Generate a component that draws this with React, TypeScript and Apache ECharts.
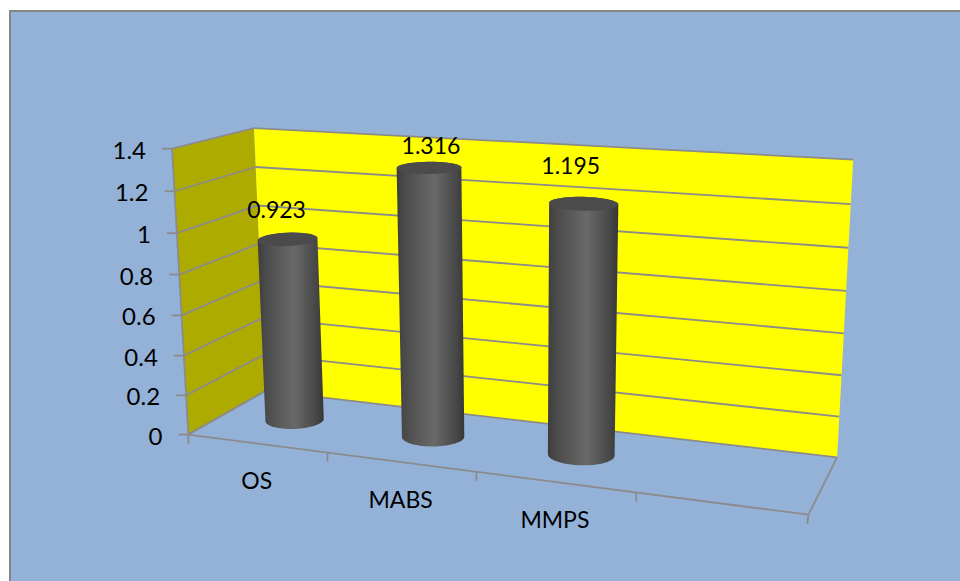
import React, { useEffect, useRef } from "react";
import * as echarts from "echarts";

// Chart content
const categories = ["OS", "MABS", "MMPS", ""];
const seriesValues = [0.923, 1.316, 1.195];
const yTicks = [0, 0.2, 0.4, 0.6, 0.8, 1, 1.2, 1.4];

// Scene layout: how the unit box (u along the categories, v into the depth, w upward)
// sits on the page. Used to solve a single projective camera.
const cameraAnchors: [number, number, number, number, number][] = [
  [0, 0, 0, 188.3, 434],
  [1, 0, 0, 808.3, 515],
  [0, 1, 0, 265.3, 390.6],
  [1, 1, 0, 836.7, 456.7],
  [0, 0, 1, 172.7, 148],
  [0, 1, 1, 253.3, 129],
  [1, 1, 1, 853.3, 159.3],
  [0.25, 0, 0, 327.3, 452.7],
  [0.5, 0, 0, 476, 471.7],
  [0.75, 0, 0, 635, 493.3],
  [0.125, 0.5, 0, 294.5, 420],
  [0.375, 0.5, 0, 433.5, 437],
  [0.625, 0.5, 0, 583.5, 455],
];
const LABEL_NUDGE: [number, number][] = [
  [-11, -30],
  [2, -23],
  [-13, -39],
];
const BAR_DEPTH = 0.5;
const BAR_HALF_WIDTH = 0.054;
const GRID = { left: 100, top: 100, width: 400, height: 400 };
const FONT = "Lato, Carlito, Calibri, sans-serif";
const LINE = "#8b8b8b";

function solveLinear(A: number[][], b: number[]): number[] {
  const n = b.length;
  const M = A.map((r, i) => [...r, b[i]]);
  for (let c = 0; c < n; c++) {
    let p = c;
    for (let r = c + 1; r < n; r++) if (Math.abs(M[r][c]) > Math.abs(M[p][c])) p = r;
    [M[c], M[p]] = [M[p], M[c]];
    for (let r = 0; r < n; r++) {
      if (r === c) continue;
      const f = M[r][c] / M[c][c];
      for (let k = c; k <= n; k++) M[r][k] -= f * M[c][k];
    }
  }
  return M.map((r, i) => r[n] / r[i]);
}

// Least-squares fit of the 11 camera coefficients from the anchors.
function fitCamera(): number[] {
  const rows: number[][] = [];
  const rhs: number[] = [];
  for (const [u, v, w, px, py] of cameraAnchors) {
    const x = px / 1000;
    const y = py / 1000;
    rows.push([u, v, w, 1, 0, 0, 0, 0, -x * u, -x * v, -x * w]);
    rhs.push(x);
    rows.push([0, 0, 0, 0, u, v, w, 1, -y * u, -y * v, -y * w]);
    rhs.push(y);
  }
  const n = 11;
  const ATA = Array.from({ length: n }, (_, i) =>
    Array.from({ length: n }, (_, j) => rows.reduce((s, r) => s + r[i] * r[j], 0))
  );
  const ATb = Array.from({ length: n }, (_, i) => rows.reduce((s, r, k) => s + r[i] * rhs[k], 0));
  return solveLinear(ATA, ATb);
}

const cam = fitCamera();
function project(u: number, v: number, w: number): [number, number] {
  const d = cam[8] * u + cam[9] * v + cam[10] * w + 1;
  return [
    (1000 * (cam[0] * u + cam[1] * v + cam[2] * w + cam[3])) / d,
    (1000 * (cam[4] * u + cam[5] * v + cam[6] * w + cam[7])) / d,
  ];
}

// Turn a grid pixel from the hidden axes into box fractions.
function toBox(params: any, pt: number[]) {
  const g = params.coordSys;
  return { u: (pt[0] - g.x) / g.width, w: (g.y + g.height - pt[1]) / g.height };
}

const lineStyle = { stroke: LINE, lineWidth: 1.8, fill: "none" };
const seg = (a: number[], b: number[], lineWidth = 1.8) => ({
  type: "line",
  shape: { x1: a[0], y1: a[1], x2: b[0], y2: b[1] },
  style: { ...lineStyle, lineWidth },
});

function renderWalls() {
  const poly = (pts: number[][], fill: string) => ({
    type: "polygon",
    shape: { points: pts },
    style: { fill },
  });
  return {
    type: "group",
    children: [
      poly([project(0, 0, 0), project(0, 1, 0), project(0, 1, 1), project(0, 0, 1)], "#aeab00"),
      poly([project(0, 1, 0), project(1, 1, 0), project(1, 1, 1), project(0, 1, 1)], "#ffff00"),
      seg(project(0, 0, 0), project(1, 0, 0)),
      seg(project(1, 0, 0), project(1, 1, 0)),
      seg(project(0, 0, 0), project(0, 1, 0)),
      seg(project(0, 0, 0), project(0, 0, 1)),
      seg(project(1, 0, 0), [project(1, 0, 0)[0] - 1, project(1, 0, 0)[1] + 9]),
    ],
  };
}

function renderGridLine(params: any, api: any) {
  const { w } = toBox(params, api.coord([0, api.value(1)]));
  const front = project(0, 0, w);
  const corner = project(0, 1, w);
  const right = project(1, 1, w);
  return {
    type: "group",
    children: [
      seg(front, corner),
      seg(corner, right),
      seg(front, [front[0] - 10, front[1]]),
      {
        type: "text",
        style: {
          text: String(api.value(1)),
          x: front[0] - 26,
          y: front[1] + 0.5,
          align: "right",
          verticalAlign: "middle",
          font: `24px ${FONT}`,
          fill: "#000",
        },
      },
    ],
  };
}

function renderCategory(params: any, api: any) {
  const i = api.value(0);
  const { u } = toBox(params, api.coord([i, 0]));
  const half = api.size([1, 0])[0] / params.coordSys.width / 2;
  const tick = project(u - half, 0, 0);
  const mid = project(u, 0, 0);
  return {
    type: "group",
    children: [
      seg(tick, [tick[0], tick[1] + 9]),
      {
        type: "text",
        style: {
          text: categories[i],
          x: mid[0],
          y: mid[1] + 37,
          align: "center",
          verticalAlign: "middle",
          font: `23px ${FONT}`,
          fill: "#000",
        },
      },
    ],
  };
}

function ellipse(c: number[], rx: number, ry: number, tilt: number, from: number, to: number) {
  const pts: number[][] = [];
  const steps = 36;
  for (let k = 0; k <= steps; k++) {
    const t = from + ((to - from) * k) / steps;
    const ex = rx * Math.cos(t);
    const ey = ry * Math.sin(t);
    pts.push([
      c[0] + ex * Math.cos(tilt) - ey * Math.sin(tilt),
      c[1] + ex * Math.sin(tilt) + ey * Math.cos(tilt),
    ]);
  }
  return pts;
}

function renderBar(params: any, api: any) {
  const i = api.value(0);
  const value = api.value(1);
  const { u, w } = toBox(params, api.coord([i, value]));
  const base = project(u, BAR_DEPTH, 0);
  const top = project(u, BAR_DEPTH, w);
  const radiusAt = (h: number) => {
    const a = project(u - BAR_HALF_WIDTH, BAR_DEPTH, h);
    const b = project(u + BAR_HALF_WIDTH, BAR_DEPTH, h);
    return Math.hypot(b[0] - a[0], b[1] - a[1]) / 2;
  };
  const tilt = ((-3.5 + 8 * u) * Math.PI) / 180;
  const rBase = radiusAt(0);
  const rTop = radiusAt(w);
  const ryBase = rBase * 0.31;
  const ryTop = rTop * (0.31 - 0.13 * w);
  const body = [
    ...ellipse(base, rBase, ryBase, tilt, 0, Math.PI),
    ...ellipse(top, rTop, ryTop, tilt, Math.PI, 2 * Math.PI),
  ];
  const nudge = LABEL_NUDGE[i];
  return {
    type: "group",
    children: [
      {
        type: "polygon",
        shape: { points: body },
        style: {
          fill: new echarts.graphic.LinearGradient(0, 0, 1, 0, [
            { offset: 0, color: "#3c3c3c" },
            { offset: 0.1, color: "#494949" },
            { offset: 0.55, color: "#696969" },
            { offset: 0.9, color: "#454545" },
            { offset: 1, color: "#363636" },
          ]),
        },
      },
      {
        type: "polygon",
        shape: { points: ellipse(top, rTop, ryTop, tilt, 0, 2 * Math.PI) },
        style: { fill: "#4b4b4b" },
      },
      {
        type: "text",
        style: {
          text: String(value),
          x: top[0] + nudge[0],
          y: top[1] + nudge[1],
          align: "center",
          verticalAlign: "middle",
          font: `23px ${FONT}`,
          fill: "#000",
        },
      },
    ],
  };
}

export default function App() {
  const ref = useRef<HTMLDivElement>(null);
  useEffect(() => {
    const chart = echarts.init(ref.current!, undefined, { renderer: "svg" });
    chart.setOption({
      animation: false,
      backgroundColor: "#ffffff",
      graphic: [
        {
          type: "rect",
          z: -10,
          shape: { x: 10, y: 11, width: 970, height: 600 },
          style: { fill: "#94b2d8", stroke: "#858585", lineWidth: 2 },
        },
      ],
      grid: GRID,
      xAxis: { type: "category", data: categories, show: false },
      yAxis: { type: "value", min: 0, max: 1.4, interval: 0.2, show: false },
      series: [
        {
          type: "custom",
          z: 1,
          silent: true,
          data: [[0, 0]],
          encode: { x: 0, y: 1 },
          renderItem: renderWalls,
        },
        {
          type: "custom",
          z: 2,
          silent: true,
          data: yTicks.map((t) => [0, t]),
          encode: { x: 0, y: 1 },
          renderItem: renderGridLine,
        },
        {
          type: "custom",
          z: 2,
          silent: true,
          data: categories.map((_, i) => [i, 0]),
          encode: { x: 0, y: 1 },
          renderItem: renderCategory,
        },
        {
          type: "custom",
          z: 3,
          silent: true,
          data: seriesValues.map((v, i) => [i, v]),
          encode: { x: 0, y: 1 },
          renderItem: renderBar,
        },
      ],
    });
    return () => chart.dispose();
  }, []);
  return (
    <div
      ref={ref}
      style={{ position: "absolute", left: 0, top: 0, width: 960, height: 581 }}
    />
  );
}
